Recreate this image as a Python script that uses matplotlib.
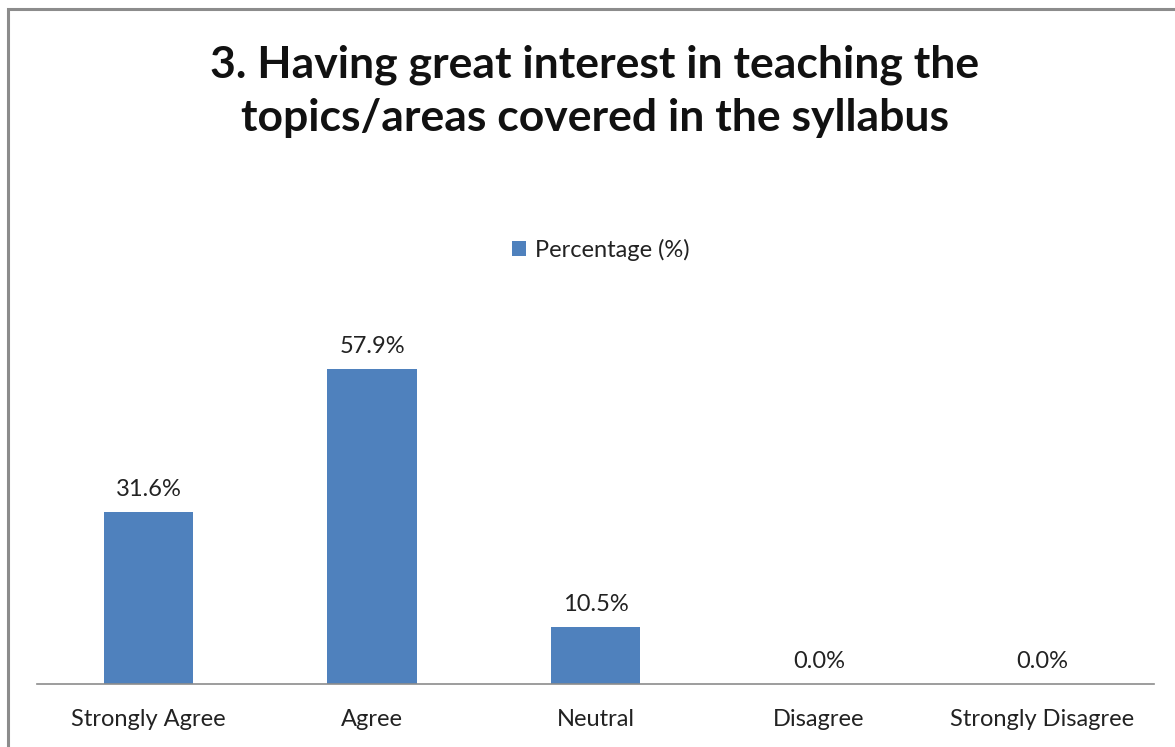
import matplotlib.pyplot as plt
from matplotlib.patches import Rectangle

categories = ["Strongly Agree", "Agree", "Neutral", "Disagree", "Strongly Disagree"]
percentages = [31.6, 57.9, 10.5, 0.0, 0.0]
series_name = "Percentage (%)"
title = "3. Having great interest in teaching the\ntopics/areas covered in the syllabus"

plt.rcParams['font.family'] = ['Lato', 'DejaVu Sans']

W, H = 1175, 747
fig = plt.figure(figsize=(W / 100, H / 100), dpi=100)

# outer chart border (cropped on the right and bottom)
fig.patches.append(Rectangle((8 / W, -0.05), 1.2, 1 - 9 / H + 0.05,
                             transform=fig.transFigure, fill=False,
                             edgecolor='#8c8c8c', linewidth=2.2))

ax = fig.add_axes([37 / W, (H - 684) / H, (1154 - 37) / W, (684 - 303) / H])
x = range(len(categories))
bars = ax.bar(x, percentages, width=0.4, color='#4f81bd', label=series_name)
ax.set_xlim(-0.5, len(categories) - 0.5)
ax.set_ylim(0, 70)

for b, v in zip(bars, percentages):
    ax.text(b.get_x() + b.get_width() / 2, v + 2.2, f"{v:.1f}%",
            ha='center', va='bottom', fontsize=17, color='#222222')

ax.set_xticks(list(x))
ax.set_xticklabels(categories, fontsize=17, color='#222222')
ax.tick_params(axis='x', length=0, pad=18)
ax.set_yticks([])
for s in ['left', 'right', 'top']:
    ax.spines[s].set_visible(False)
ax.spines['bottom'].set_color('#8c8c8c')
ax.spines['bottom'].set_linewidth(1.2)

fig.text(595 / W, 1 - 91 / H, title, ha='center', va='center',
         fontsize=32, fontweight='bold', color='#111111', linespacing=1.4)

fig.legend(loc='center', bbox_to_anchor=(601 / W, 1 - 250 / H), frameon=False,
           fontsize=17, handlelength=0.6, handleheight=0.6, handletextpad=0.4,
           labelcolor='#222222')

fig.savefig("out.png", dpi=100)
